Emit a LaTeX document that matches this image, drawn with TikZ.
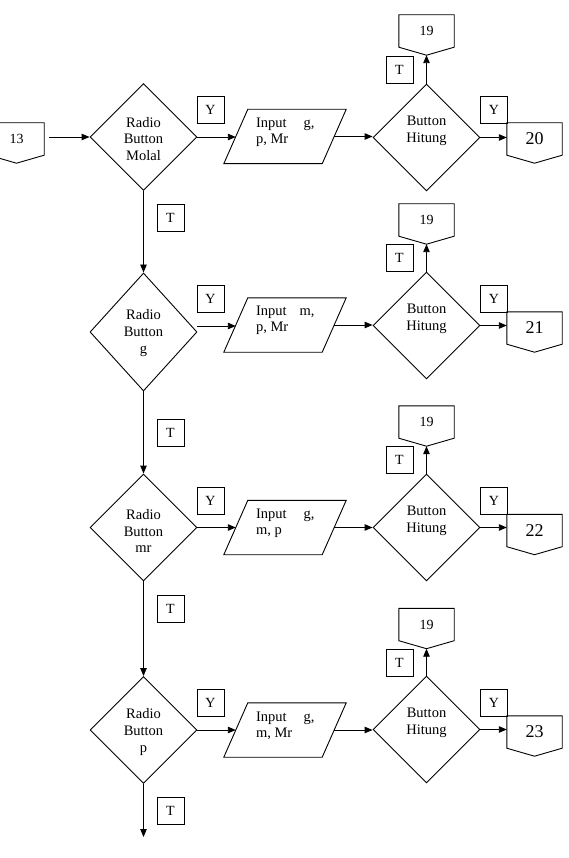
\documentclass[tikz,border=0pt]{standalone}
\usepackage{fontspec}
\setmainfont{Liberation Serif}
\usetikzlibrary{shapes.geometric,arrows.meta,calc}
\tikzset{
 dia/.style={draw, diamond, minimum width=107pt, minimum height=107pt, inner sep=0pt, line width=0.9pt},
 lbl/.style={draw, minimum size=27pt, inner sep=0pt, font=\fontsize{14}{16}\selectfont, line width=0.9pt},
 txt/.style={align=center, inner sep=0pt, font=\fontsize{14.5}{16.8}\selectfont},
 ptxt/.style={align=left, anchor=west, inner sep=0pt, font=\fontsize{14.5}{16}\selectfont},
 frame/.style={minimum width=98pt, minimum height=54pt, inner sep=0pt},
 opc/.style={minimum width=55pt, minimum height=32pt, inner sep=0pt},
 outline/.style={line width=0.9pt},
 arr/.style={-{Triangle[length=8pt,width=6.5pt]}, line width=0.9pt},
 smallnum/.style={font=\fontsize{14}{16}\selectfont},
 bignum/.style={font=\fontsize{18}{20}\selectfont},
}
\newcommand{\offpg}[5]{% name, x, y, style, text
 \node[opc,#4] (#1) at (#2,#3) {#5};
 \coordinate (#1-tip) at ($(#1.south)+(0,8)$);
 \draw[outline] (#1.north west) -- (#1.north east) -- (#1.south east) -- (#1-tip) -- (#1.south west) -- cycle;
}
\newcommand{\pgram}[4]{% name, x, y, text
 \node[frame] (#1) at (#2,#3) {};
 \draw[outline] ($(#1.north west)+(12,0)$) -- ($(#1.north east)+(12,0)$) -- ($(#1.south east)+(-12,0)$) -- ($(#1.south west)+(-12,0)$) -- cycle;
 \node[ptxt] (#1t) at ($(#1.west)+(20,-4.5)$) {#4};
}
\begin{document}
\begin{tikzpicture}[x=1pt,y=-1pt]
\useasboundingbox (0,0) rectangle (569,858);

% left decision column
\node[dia] (D1) at (143.5,137) {};
\node[dia, minimum height=118pt] (D2) at (143.5,332) {};
\node[dia] (D3) at (143.5,527.5) {};
\node[dia] (D4) at (143.5,730) {};
\node[txt] (D1t) at (143.5,139) {Radio\\Button\\Molal};
\node[txt] (D2t) at (143.5,333) {Radio\\Button\\g};
\node[txt] (D3t) at (143.5,531) {Radio\\Button\\mr};
\node[txt] (D4t) at (143.5,732) {Radio\\Button\\p};
\coordinate (endT) at (143.5,837);

% entry connector
\offpg{c13}{16.5}{139}{smallnum}{13}
\draw[arr] ($(c13.east |- D1.west)+(5,0)$) -- (D1.west);

% vertical flow
\draw[arr] (D1.south) -- (D2.north);
\draw[arr] (D2.south) -- (D3.north);
\draw[arr] (D3.south) -- (D4.north);
\draw[arr] (D4.south) -- (endT);
\node[lbl] (T1) at (170.5,217.5) {T};
\node[lbl] (T2) at (170.5,433) {T};
\node[lbl] (T3) at (170.5,608.5) {T};
\node[lbl] (T4) at (170.5,810.5) {T};

% Y labels left
\node[lbl] (Y1) at (210.5,109.5) {Y};
\node[lbl] (Y2) at (210.5,298.5) {Y};
\node[lbl] (Y3) at (210.5,500.5) {Y};
\node[lbl] (Y4) at (210.5,702.5) {Y};

% inputs
\pgram{P1}{285}{136.5}{Input\hspace{17pt}g,\\p, Mr}
\pgram{P2}{285}{325}{Input\hspace{13pt}m,\\p, Mr}
\pgram{P3}{285}{527.5}{Input\hspace{17pt}g,\\m, p}
\pgram{P4}{285}{730}{Input\hspace{17pt}g,\\m, Mr}

\draw[arr] (D1.east) -- (D1.east -| P1.west);
\coordinate (d2o) at ($(D2.east)+(0,-6)$);
\draw[arr] (d2o) -- (d2o -| P2.west);
\draw[arr] (D3.east) -- (D3.east -| P3.west);
\draw[arr] (D4.east) -- (D4.east -| P4.west);

% Hitung decisions
\node[dia] (H1) at (426.5,137.5) {};
\node[dia] (H2) at (426.5,325.5) {};
\node[dia] (H3) at (426.5,527.5) {};
\node[dia] (H4) at (426.5,729.5) {};
\node[txt] (H1t) at (426.5,131) {Button\\Hitung};
\node[txt] (H2t) at (426.5,319) {Button\\Hitung};
\node[txt] (H3t) at (426.5,521) {Button\\Hitung};
\node[txt] (H4t) at (426.5,723) {Button\\Hitung};

\draw[arr] (P1.east) -- (P1.east -| H1.west);
\draw[arr] (P2.east) -- (P2.east -| H2.west);
\draw[arr] (P3.east) -- (P3.east -| H3.west);
\draw[arr] (P4.east) -- (P4.east -| H4.west);

% back connectors 19
\offpg{c19a}{426.5}{31}{smallnum}{19}
\offpg{c19b}{426.5}{220}{smallnum}{19}
\offpg{c19c}{426.5}{422}{smallnum}{19}
\offpg{c19d}{426.5}{624.5}{smallnum}{19}
\draw[arr] (H1.north) -- (c19a-tip);
\draw[arr] (H2.north) -- (c19b-tip);
\draw[arr] (H3.north) -- (c19c-tip);
\draw[arr] (H4.north) -- (c19d-tip);
\node[lbl] (TH1) at (399.5,70) {T};
\node[lbl] (TH2) at (399.5,258) {T};
\node[lbl] (TH3) at (399.5,460) {T};
\node[lbl] (TH4) at (399.5,662.5) {T};

% exit connectors
\offpg{c20}{534.5}{139}{bignum}{20}
\offpg{c21}{534.5}{328}{bignum}{21}
\offpg{c22}{534.5}{530.5}{bignum}{22}
\offpg{c23}{534.5}{732}{bignum}{23}
\draw[arr] (H1.east) -- (H1.east -| c20.west);
\draw[arr] (H2.east) -- (H2.east -| c21.west);
\draw[arr] (H3.east) -- (H3.east -| c22.west);
\draw[arr] (H4.east) -- (H4.east -| c23.west);
\node[lbl] (YH1) at (494,110) {Y};
\node[lbl] (YH2) at (494,298.5) {Y};
\node[lbl] (YH3) at (494,500.5) {Y};
\node[lbl] (YH4) at (494,702.5) {Y};
\end{tikzpicture}
\end{document}
